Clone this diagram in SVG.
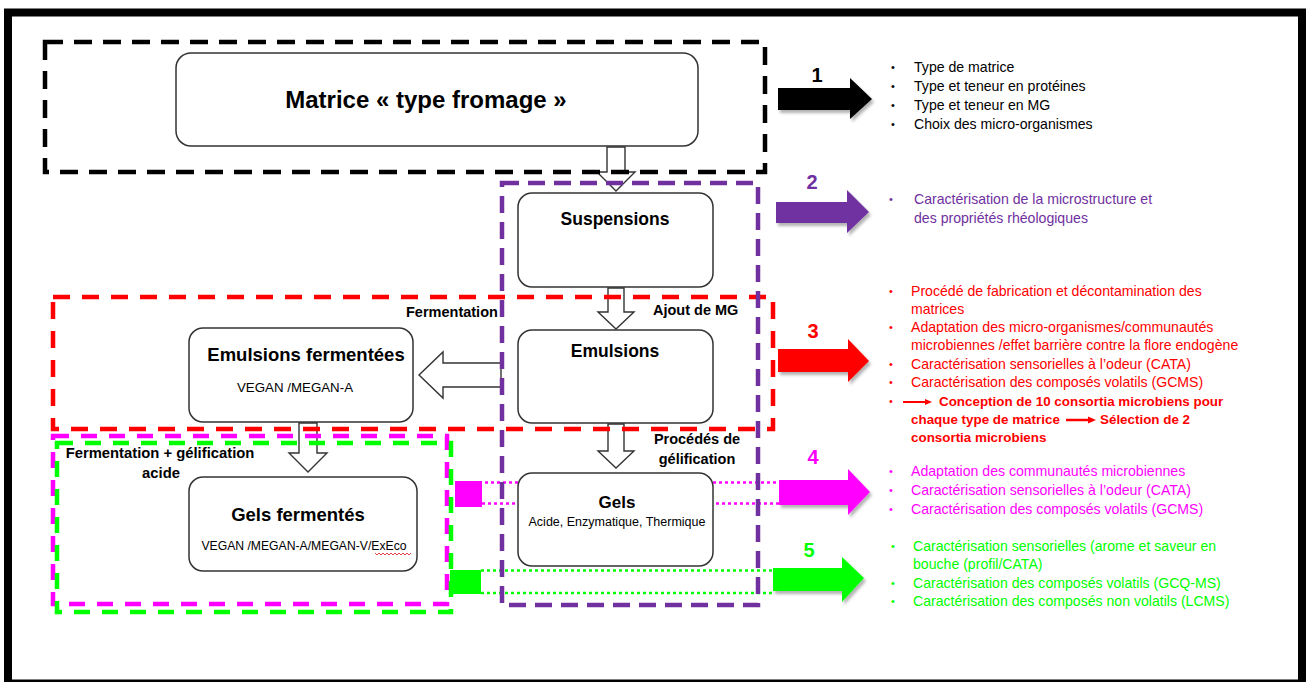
<svg xmlns="http://www.w3.org/2000/svg" width="1309" height="682" viewBox="0 0 1309 682">
<defs>
<style>
text{font-family:"Liberation Sans",Arial,sans-serif}
.node{fill:#fff;stroke:#333;stroke-width:1.5}
.hol{fill:#fff;stroke:#333;stroke-width:1.4;stroke-linejoin:miter}
.b{font-weight:bold}
.lst{font-size:14.1px}
.bul{font-size:11px}
.lstb{font-size:13.4px;font-weight:bold}
.num{font-size:20px;font-weight:bold;text-anchor:middle}
.mid{text-anchor:middle}
.dash{fill:none;stroke-width:4.5}
.dot{fill:none;stroke-width:2.5;stroke-dasharray:3 3}
</style>
<filter id="sh" x="-10%" y="-10%" width="130%" height="140%">
<feDropShadow dx="2" dy="3" stdDeviation="1.5" flood-color="#000" flood-opacity="0.3"/>
</filter>
</defs>
<rect x="0" y="0" width="1309" height="682" fill="#fff"/>
<rect x="8" y="12.5" width="1294" height="671" fill="none" stroke="#000" stroke-width="8"/>

<g id="connectors">
<polygon class="hol" points="607,147 625,147 625,172 635,172 616,191 597,172 607,172"/>
<polygon class="hol" points="608,288 624,288 624,312 634,312 616,329 598,312 608,312"/>
<polygon class="hol" points="608,424 624,424 624,451 634,451 616,468 598,451 608,451"/>
<polygon class="hol" points="501,363 443,363 443,352 419,375 443,398 443,387 501,387"/>
<polygon class="hol" points="299,423 317,423 317,453 327,453 308,472 289,453 299,453"/>
<line class="dot" stroke="#ff00ff" x1="467" y1="482.5" x2="780" y2="482.5"/>
<line class="dot" stroke="#ff00ff" x1="482" y1="503.5" x2="780" y2="503.5"/>
<rect x="455" y="481" width="27" height="26" fill="#ff00ff"/>
<line class="dot" stroke="#00ff00" x1="481" y1="570.5" x2="773" y2="570.5"/>
<line class="dot" stroke="#00ff00" x1="481" y1="593" x2="773" y2="593"/>
<rect x="450" y="570" width="31" height="24" fill="#00ff00"/>
<g filter="url(#sh)">
<polygon fill="#000" points="778,88 850,88 850,78 872,99 850,119 850,110 778,110"/>
<polygon fill="#7030a0" points="776,202 847,202 847,190 869,212 847,233 847,223 776,223"/>
<polygon fill="#ff0000" points="778,349 848,349 848,339 869,361 848,382 848,372 778,372"/>
<polygon fill="#ff00ff" points="779,480 848,480 848,469 870,492 848,515 848,505 779,505"/>
<polygon fill="#00ff00" points="773,568 842,568 842,557 864,578 842,602 842,591 773,591"/>
</g>
</g>

<g id="matrice">
<rect class="node" x="176" y="53" width="522" height="93" rx="15"/>
<text class="b mid" x="426" y="108" font-size="24">Matrice « type fromage »</text>
</g>
<g id="suspensions">
<rect class="node" x="518" y="193" width="195" height="94" rx="14"/>
<text class="b mid" x="615" y="225" font-size="17.5">Suspensions</text>
</g>
<g id="emulsions">
<rect class="node" x="518" y="330" width="195" height="93" rx="14"/>
<text class="b mid" x="615" y="357" font-size="17.5">Emulsions</text>
</g>
<g id="gels">
<rect class="node" x="518" y="473" width="195" height="93" rx="14"/>
<text class="b mid" x="617" y="508" font-size="17">Gels</text>
<text class="mid" x="617" y="526" font-size="12.5">Acide, Enzymatique, Thermique</text>
</g>
<g id="emulsions-fermentees">
<rect class="node" x="189" y="328" width="224" height="94" rx="14"/>
<text class="b mid" x="306" y="361" font-size="18.5">Emulsions fermentées</text>
<text class="mid" x="295" y="392" font-size="13.3">VEGAN /MEGAN-A</text>
</g>
<g id="gels-fermentes">
<rect class="node" x="189" y="477" width="228" height="94" rx="14"/>
<text class="b mid" x="298" y="521" font-size="18.5">Gels fermentés</text>
<text class="mid" x="304" y="550" font-size="12.2">VEGAN /MEGAN-A/MEGAN-V/ExEco</text>
<polyline points="375,553 377,555 379,553 381,555 383,553 385,555 387,553 389,555 391,553 393,555 395,553 397,555 399,553 401,555 403,553 405,555 407,553 409,555 411,553" fill="none" stroke="#e03030" stroke-width="0.9"/>
</g>

<g id="groups">
<rect class="dash" stroke="#000" stroke-dasharray="18 11" x="45" y="42" width="720" height="130"/>
<rect class="dash" stroke="#ff0000" stroke-dasharray="17 12" x="53" y="297" width="720" height="132"/>
<rect class="dash" stroke="#7030a0" stroke-width="3.5" stroke-dasharray="17 9" x="502" y="183" width="256" height="422"/>
<rect class="dash" stroke="#ff00ff" stroke-width="4" stroke-dasharray="16 12" x="53" y="436" width="394" height="168"/>
<rect class="dash" stroke="#00ff00" stroke-width="4" stroke-dasharray="16 12" x="57" y="443" width="394" height="169"/>
</g>

<g id="labels">
<text class="b" x="406" y="317" font-size="14.5">Fermentation</text>
<text class="b" x="653" y="315" font-size="14.5">Ajout de MG</text>
<text class="b mid" x="697" y="444" font-size="14.5">Procédés de</text>
<text class="b mid" x="697" y="464" font-size="14.5">gélification</text>
<text class="b mid" x="160" y="458" font-size="14.8">Fermentation + gélification</text>
<text class="b mid" x="161" y="478" font-size="14.8">acide</text>
<text class="num" x="817" y="82" fill="#000">1</text>
<text class="num" x="812" y="189" fill="#7030a0">2</text>
<text class="num" x="813" y="338" fill="#ff0000">3</text>
<text class="num" x="813" y="464" fill="#ff00ff">4</text>
<text class="num" x="809" y="557" fill="#00ff00">5</text>
</g>

<g id="list1" fill="#000">
<text class="bul" x="891" y="71">•</text><text class="lst" x="914" y="72">Type de matrice</text>
<text class="bul" x="891" y="90">•</text><text class="lst" x="914" y="91">Type et teneur en protéines</text>
<text class="bul" x="891" y="109">•</text><text class="lst" x="914" y="110">Type et teneur en MG</text>
<text class="bul" x="891" y="128">•</text><text class="lst" x="914" y="129">Choix des micro-organismes</text>
</g>
<g id="list2" fill="#7030a0">
<text class="bul" x="889" y="203">•</text><text class="lst" x="914" y="204">Caractérisation de la microstructure et</text>
<text class="lst" x="914" y="223">des propriétés rhéologiques</text>
</g>
<g id="list3" fill="#ff0000">
<text class="bul" x="889" y="295">•</text><text class="lst" x="911" y="296">Procédé de fabrication et décontamination des</text>
<text class="lst" x="911" y="314">matrices</text>
<text class="bul" x="889" y="331">•</text><text class="lst" x="911" y="332">Adaptation des micro-organismes/communautés</text>
<text class="lst" x="911" y="350">microbiennes /effet barrière contre la flore endogène</text>
<text class="bul" x="889" y="368">•</text><text class="lst" x="911" y="369">Caractérisation sensorielles à l’odeur (CATA)</text>
<text class="bul" x="889" y="386">•</text><text class="lst" x="911" y="387">Caractérisation des composés volatils (GCMS)</text>
<text class="bul" x="889" y="405">•</text>
<path d="M903,402 H926" stroke="#ff0000" stroke-width="2"/><polygon points="925,399 932,402 925,405" fill="#ff0000"/>
<text class="lstb" x="939" y="406">Conception de 10 consortia microbiens pour</text>
<text class="lstb" x="911" y="424">chaque type de matrice</text>
<path d="M1066,420 H1089" stroke="#ff0000" stroke-width="2.5"/><polygon points="1088,416.5 1096,420 1088,423.5" fill="#ff0000"/>
<text class="lstb" x="1100" y="424">Sélection de 2</text>
<text class="lstb" x="911" y="442">consortia microbiens</text>
</g>
<g id="list4" fill="#ff00ff">
<text class="bul" x="889" y="475">•</text><text class="lst" x="911" y="476">Adaptation des communautés microbiennes</text>
<text class="bul" x="889" y="494">•</text><text class="lst" x="911" y="495">Caractérisation sensorielles à l’odeur (CATA)</text>
<text class="bul" x="889" y="513">•</text><text class="lst" x="911" y="514">Caractérisation des composés volatils (GCMS)</text>
</g>
<g id="list5" fill="#00ff00">
<text class="bul" x="891" y="550">•</text><text class="lst" x="913" y="551">Caractérisation sensorielles (arome et saveur en</text>
<text class="lst" x="913" y="569">bouche (profil/CATA)</text>
<text class="bul" x="891" y="587">•</text><text class="lst" x="913" y="588">Caractérisation des composés volatils (GCQ-MS)</text>
<text class="bul" x="891" y="605">•</text><text class="lst" x="913" y="606">Caractérisation des composés non volatils (LCMS)</text>
</g>
</svg>
